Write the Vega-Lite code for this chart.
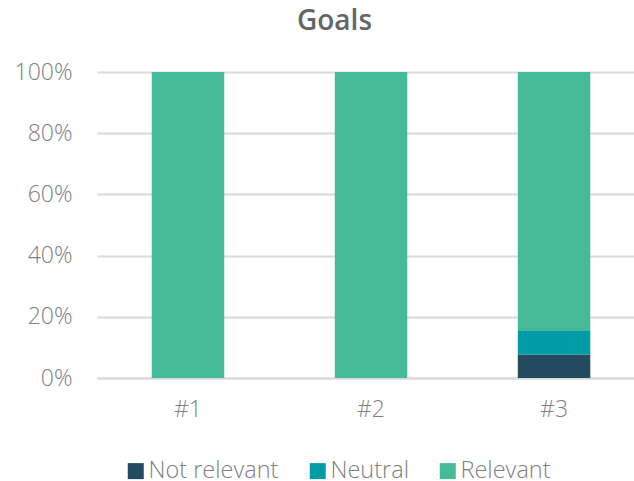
{
  "$schema": "https://vega.github.io/schema/vega-lite/v6.json",
  "autosize": "none",
  "width": 537,
  "height": 306,
  "padding": {"left": 97, "top": 72, "right": 0, "bottom": 103},
  "background": "white",
  "title": {"text": "Goals", "font": "Open Sans", "fontSize": 28, "fontWeight": 600, "color": "#666666", "offset": 25, "anchor": "middle", "dx": -31},
  "data": {"values": [
    {"item": "#1", "category": "Not relevant", "value": 0, "ord": 1},
    {"item": "#1", "category": "Neutral", "value": 0, "ord": 2},
    {"item": "#1", "category": "Relevant", "value": 1, "ord": 3},
    {"item": "#2", "category": "Not relevant", "value": 0, "ord": 1},
    {"item": "#2", "category": "Neutral", "value": 0, "ord": 2},
    {"item": "#2", "category": "Relevant", "value": 1, "ord": 3},
    {"item": "#3", "category": "Not relevant", "value": 0.077, "ord": 1},
    {"item": "#3", "category": "Neutral", "value": 0.077, "ord": 2},
    {"item": "#3", "category": "Relevant", "value": 0.846, "ord": 3}
  ]},
  "mark": {"type": "bar"},
  "encoding": {
    "x": {"field": "item", "type": "nominal", "title": null,
      "scale": {"paddingInner": 0.604, "paddingOuter": 0.269, "align": 0.556},
      "axis": {"labelAngle": 0, "labelFont": "Open Sans", "labelFontSize": 23, "labelFontWeight": 300, "labelColor": "#808080", "ticks": false, "domainColor": "#d9d9d9", "domainWidth": 2, "labelPadding": 20}},
    "y": {"field": "value", "type": "quantitative", "stack": "zero", "title": null,
      "scale": {"domain": [0, 1]},
      "axis": {"format": ".0%", "values": [0, 0.2, 0.4, 0.6, 0.8, 1], "labelOverlap": false, "labelFont": "Open Sans", "labelFontSize": 23, "labelFontWeight": 300, "labelColor": "#808080", "ticks": false, "domain": false, "gridColor": "#d9d9d9", "gridWidth": 2, "labelPadding": 25}},
    "color": {"field": "category", "type": "nominal", "title": null,
      "scale": {"domain": ["Not relevant", "Neutral", "Relevant"], "range": ["#234a5f", "#009ca6", "#44bb96"]},
      "legend": {"orient": "none", "direction": "horizontal", "legendX": 27, "legendY": 387, "symbolType": "square", "symbolSize": 256, "labelFont": "Open Sans", "labelFontSize": 23.5, "labelFontWeight": 300, "labelColor": "#808080", "labelOffset": 1, "labelLimit": 400, "columnPadding": 27, "symbolStrokeWidth": 0}},
    "order": {"field": "ord", "type": "quantitative"}
  },
  "config": {"view": {"stroke": null}}
}
